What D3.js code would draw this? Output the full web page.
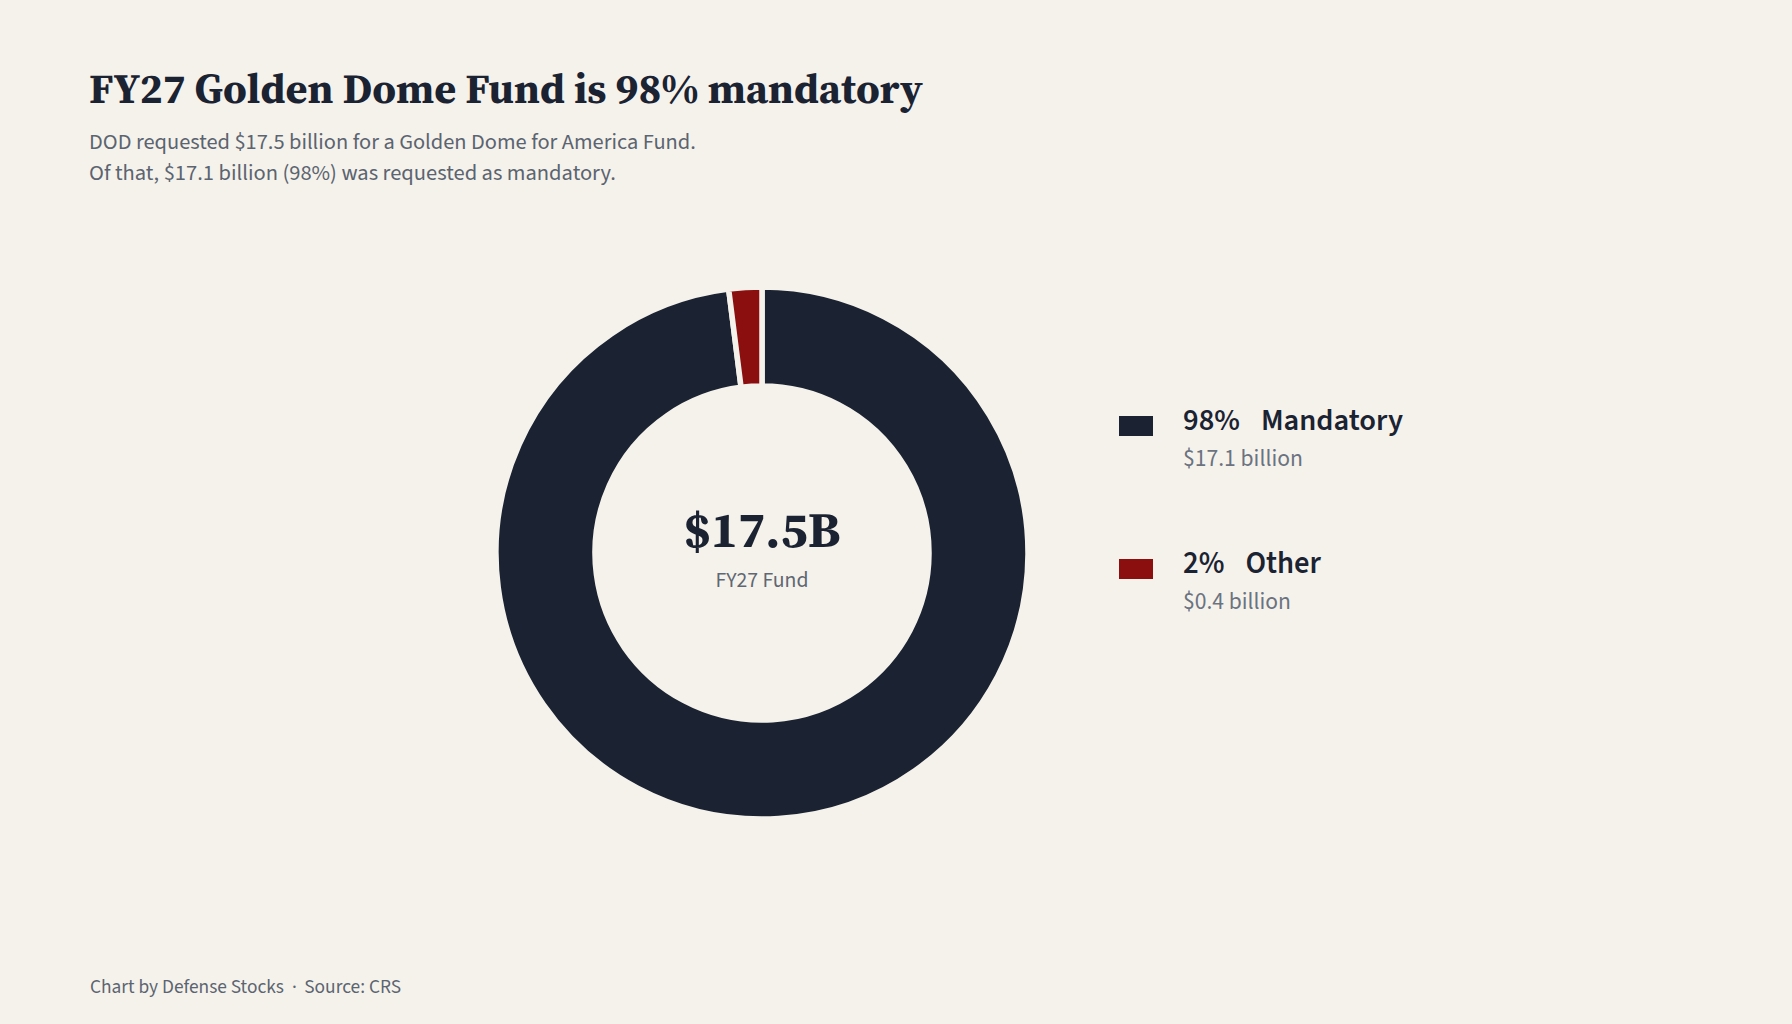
<!DOCTYPE html>
<html>
<head>
<meta charset="utf-8">
<script src="https://cdn.jsdelivr.net/npm/d3@7"></script>
<style>
  html, body { margin: 0; padding: 0; background: #f5f2ec; }
  svg { display: block; }
</style>
</head>
<body>
<svg id="chart" width="1792" height="1024"></svg>
<script>
const categories = ["Mandatory", "Other"];
const shares = [98, 2];
const amounts = [17.1, 0.4];
const percentLabels = ["98%", "2%"];
const valueLabels = ["$17.1 billion", "$0.4 billion"];
const colors = ["#1b2332", "#8c0f0f"];
const titleText = "FY27 Golden Dome Fund is 98% mandatory";
const subtitleLines = ["DOD requested $17.5 billion for a Golden Dome for America Fund.",
                       "Of that, $17.1 billion (98%) was requested as mandatory."];
const centerValue = "$17.5B";
const centerLabel = "FY27 Fund";
const footerParts = ["Chart by Defense Stocks", "\u00b7", "Source: CRS"];

const bg = "#f5f2ec";
const SERIF = "'Source Serif 4','Source Serif Pro','Liberation Serif',serif";
const SANS = "'Source Sans 3','Source Sans Pro',Lato,'Noto Sans',sans-serif";

const svg = d3.select("#chart");
svg.append("rect").attr("width", 1792).attr("height", 1024).attr("fill", bg);

function fit(sel, target) {
  const w = sel.node().getComputedTextLength();
  const fs = parseFloat(sel.attr("font-size"));
  if (w > 0) sel.attr("font-size", (fs * target / w).toFixed(2));
  return sel;
}

// Title
fit(svg.append("text").attr("x", 89).attr("y", 103)
  .attr("font-family", SERIF).attr("font-weight", 700).attr("font-size", 44)
  .attr("fill", "#1b2332").text(titleText), 834);

// Subtitle
const subW = [607, 527];
subtitleLines.forEach((t, i) => {
  fit(svg.append("text").attr("x", 89).attr("y", 149 + i * 31)
    .attr("font-family", SANS).attr("font-size", 20)
    .attr("fill", "#5b6470").text(t), subW[i]);
});

// Donut
const cx = 762, cy = 553;
const pie = d3.pie().sort(null).value(d => d)(shares);
const arc = d3.arc().innerRadius(167).outerRadius(266);
const g = svg.append("g").attr("transform", `translate(${cx},${cy})`);
g.selectAll("path").data(pie).join("path")
  .attr("d", arc)
  .attr("fill", (d, i) => colors[i])
  .attr("stroke", bg).attr("stroke-width", 5.5).attr("stroke-linejoin", "miter");

fit(g.append("text").attr("x", 0).attr("y", -6).attr("text-anchor", "middle")
  .attr("font-family", SERIF).attr("font-weight", 700).attr("font-size", 42)
  .attr("fill", "#1b2332").text(centerValue), 157);
fit(g.append("text").attr("x", 0).attr("y", 34).attr("text-anchor", "middle")
  .attr("font-family", SANS).attr("font-size", 21)
  .attr("fill", "#5f6772").text(centerLabel), 93);

// Legend
const legY = [430, 573];
const labelW = [199, 117];
const gapW = 21;
categories.forEach((c, i) => {
  const y = legY[i];
  svg.append("rect").attr("x", 1119).attr("y", y - 14).attr("width", 34).attr("height", 20)
    .attr("fill", colors[i]);
  const t = svg.append("text").attr("x", 1183).attr("y", y)
    .attr("font-family", SANS).attr("font-weight", 600).attr("font-size", 29)
    .attr("fill", "#1b2332");
  t.append("tspan").text(percentLabels[i]);
  t.append("tspan").attr("dx", gapW).text(c);
  fit(t, labelW[i]);
  fit(svg.append("text").attr("x", 1183).attr("y", y + 36)
    .attr("font-family", SANS).attr("font-size", 22)
    .attr("fill", "#6b7280").text(valueLabels[i]), i === 0 ? 120 : 108);
});

// Footer
const ft = svg.append("text").attr("x", 90).attr("y", 993)
  .attr("font-family", SANS).attr("font-size", 19).attr("fill", "#5b6470");
ft.append("tspan").text(footerParts[0]);
ft.append("tspan").attr("dx", 8).text(footerParts[1]);
ft.append("tspan").attr("dx", 8).text(footerParts[2]);
fit(ft, 295);
</script>
</body>
</html>
